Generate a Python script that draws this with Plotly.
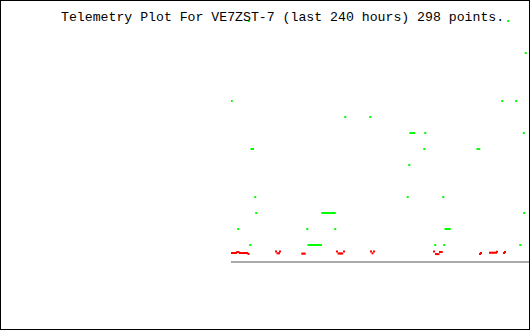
import plotly.graph_objects as go

title_text = "Telemetry Plot For VE7ZST-7 (last 240 hours) 298 points."

# green series: hours, level
green_hours = [0.6, 91.4, 111.4, 16.4, 17.6, 19.4, 20.2,
               73, 74, 75, 76, 77, 78, 79, 80, 81, 82, 83,
               5.8, 61.0, 83.4, 15.4,
               62, 63, 64, 65, 66, 67, 68, 69, 70, 71, 72,
               217.0, 228.2, 143.5, 144.5, 145.5, 146.5, 155.4, 234.2,
               154.6, 197.2, 198.6, 142.6, 141.4, 169.8, 234.6,
               171.6, 172.8, 174.0, 175.0, 163.4, 170.6, 231.4,
               14.4, 221.8, 235.8]
green_values = [10, 9, 9, 7, 7, 4, 3,
                3, 3, 3, 3, 3, 3, 3, 3, 3, 3, 3,
                2, 2, 2, 1,
                1, 1, 1, 1, 1, 1, 1, 1, 1, 1, 1,
                10, 10, 8, 8, 8, 8, 8, 8,
                7, 7, 7, 6, 4, 4, 3,
                2, 2, 2, 2, 1, 1, 1,
                15, 15, 13]

# red series: hours, value
red_hours = [0, 1, 2, 3, 4, 5, 6, 7, 8, 9, 10, 11, 12, 13, 14,
             36, 37.2, 38.4, 39.2,
             57, 58, 59,
             84.8, 86, 87, 88, 89, 90.4,
             112, 113.2, 114.4,
             162.4, 164, 165, 166, 167.2, 168.6,
             199.2, 200,
             207.2, 208.4, 209.6, 210.8, 212, 212.8,
             218.4, 219.2]
red_values = [0.5, 0.5, 0.5, 0.5, 0.5, 0.56, 0.56, 0.5, 0.5, 0.5, 0.5, 0.5, 0.5, 0.5, 0.44,
              0.59, 0.48, 0.48, 0.59,
              0.46, 0.46, 0.46,
              0.59, 0.47, 0.47, 0.47, 0.47, 0.59,
              0.59, 0.48, 0.59,
              0.59, 0.43, 0.43, 0.43, 0.56, 0.56,
              0.44, 0.5,
              0.52, 0.52, 0.52, 0.52, 0.52, 0.58,
              0.5, 0.56]

W, H = 530, 330

fig = go.Figure()
fig.add_trace(go.Scatter(x=green_hours, y=green_values, mode="markers",
                         marker=dict(symbol="square", size=2, color="#00ff00",
                                     line=dict(width=0)),
                         hoverinfo="skip"))
fig.add_trace(go.Scatter(x=red_hours, y=red_values, mode="markers",
                         marker=dict(symbol="square", size=2, color="#ff0000",
                                     line=dict(width=0)),
                         hoverinfo="skip"))

fig.update_layout(
    width=W, height=H,
    margin=dict(l=0, r=0, t=0, b=0),
    paper_bgcolor="white", plot_bgcolor="white",
    showlegend=False,
    xaxis=dict(domain=[231 / W, 1], range=[0, 239.2], showgrid=False,
               zeroline=False, showticklabels=False, ticks="",
               showline=True, linecolor="#aaaaaa", linewidth=2),
    yaxis=dict(domain=[69 / H, 325 / H], range=[0, 16], showgrid=False,
               zeroline=False, showticklabels=False, ticks="", showline=False),
)

# title placed relative to the full figure
fig.add_annotation(text=title_text, xref="x domain", yref="y domain",
                   x=(59 - 231) / 299, y=(330 - 18 - 69) / 256,
                   xanchor="left", yanchor="middle", showarrow=False,
                   font=dict(family="Liberation Mono", size=13.2, color="black"))

# outer frame
fig.add_shape(type="rect", xref="x domain", yref="y domain",
              x0=-231 / 299, x1=1, y0=-69 / 256, y1=(330 - 69) / 256,
              line=dict(color="black", width=2), fillcolor="rgba(0,0,0,0)",
              layer="above")

fig.write_html("out.html", config={"displayModeBar": False})
